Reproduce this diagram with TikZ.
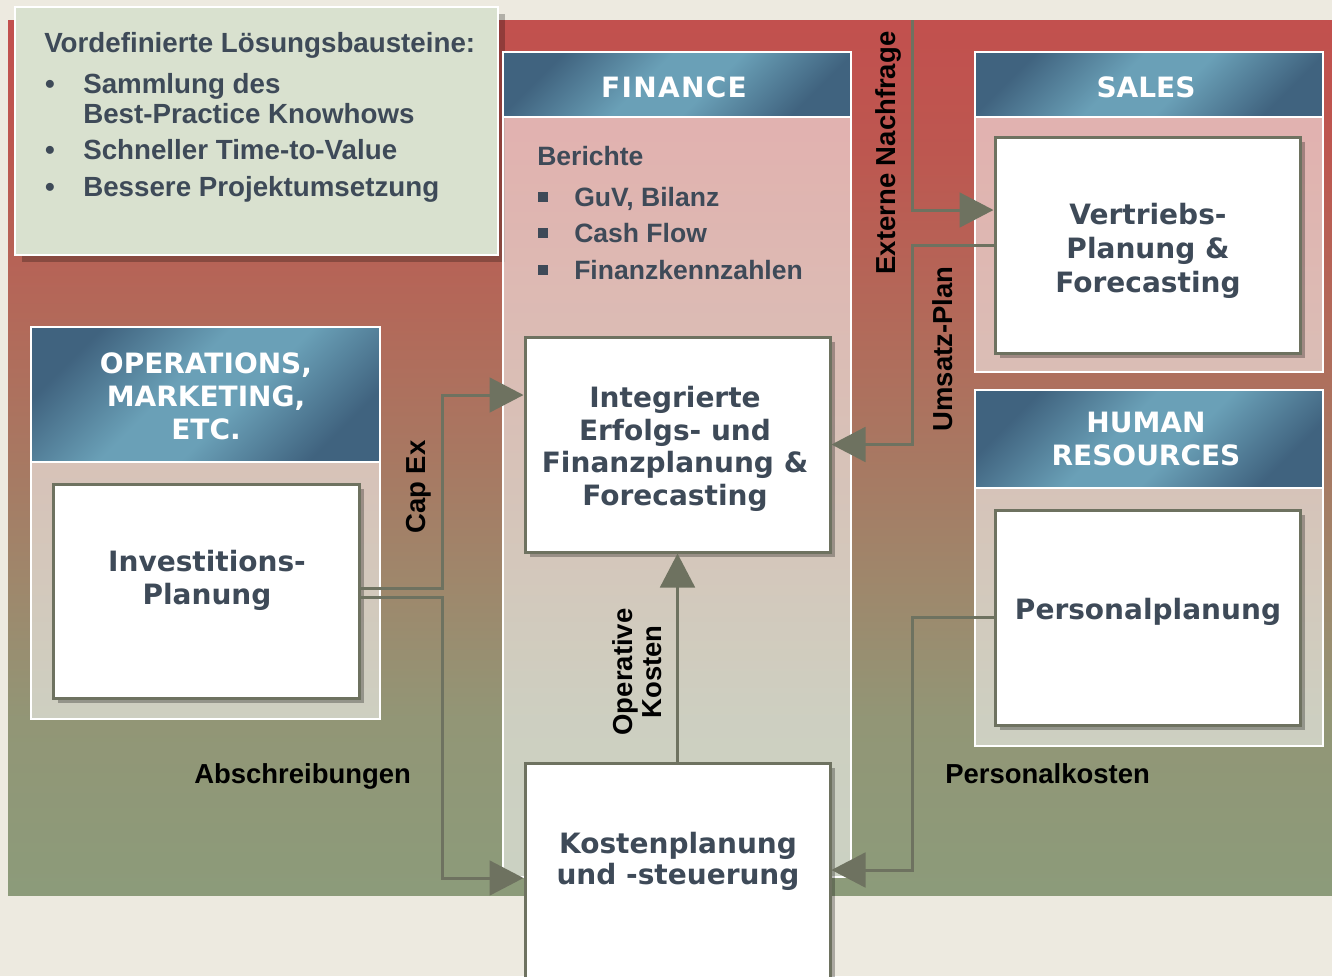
\documentclass[tikz,border=0pt]{standalone}
\usepackage{fontspec}
\setmainfont{DejaVu Sans}
\newfontfamily\lib{Liberation Sans}
\usetikzlibrary{arrows.meta,fit,shadows}
\definecolor{bgc}{RGB}{237,234,224}
\definecolor{calloutc}{RGB}{217,225,207}
\definecolor{txtc}{RGB}{62,74,88}
\definecolor{linec}{RGB}{110,114,96}
\definecolor{hdark}{RGB}{64,99,127}
\definecolor{hlight}{RGB}{106,160,183}
\definecolor{gA}{RGB}{140,155,122}
\definecolor{gB}{RGB}{146,150,118}
\definecolor{gC}{RGB}{158,136,108}
\definecolor{gD}{RGB}{168,120,98}
\definecolor{gE}{RGB}{178,106,90}
\definecolor{gF}{RGB}{189,87,80}
\definecolor{gG}{RGB}{194,80,78}
\pgfdeclareverticalshading{bgshade}{100bp}{color(0bp)=(gA); color(25bp)=(gA); color(35bp)=(gB); color(42.5bp)=(gC); color(50bp)=(gD); color(57.5bp)=(gE); color(67.5bp)=(gF); color(75bp)=(gG); color(100bp)=(gG)}
\pgfdeclareverticalshading{hdrshade}{100bp}{color(0bp)=(hdark); color(25bp)=(hdark); color(44bp)=(hlight); color(56bp)=(hlight); color(75bp)=(hdark); color(100bp)=(hdark)}
\begin{document}
\begin{tikzpicture}[x=0.75pt,y=-0.75pt,
  ibox/.style={draw=linec, line width=2.25pt, fill=white, inner sep=0pt,
    drop shadow={shadow xshift=3.75pt, shadow yshift=-3.75pt, fill=black, opacity=0.28}},
  boxtxt/.style={text=txtc, align=center, inner sep=0pt},
  hdr/.style={shading=hdrshade, shading angle=45, draw=white, line width=1.5pt, inner sep=0pt},
  hdrtxt/.style={text=white, align=center, inner sep=0pt, font=\bfseries\fontsize{21}{24.75}\selectfont},
  pbody/.style={fill=white, fill opacity=0.55, draw=white, draw opacity=1, line width=1.5pt, inner sep=0pt},
  conn/.style={draw=linec, line width=2.25pt},
  arr/.style={conn, -{Triangle[length=25.5pt,width=26pt]}},
  lbl/.style={text=black, inner sep=0pt, font=\lib\bfseries\fontsize{20.6}{22.2}\selectfont},
  ctext/.style={text=txtc, inner sep=0pt, anchor=base west, font=\lib\bfseries\fontsize{20.8}{25}\selectfont},
  cbul/.style={text=txtc, inner sep=0pt, anchor=base, font=\lib\bfseries\fontsize{20.8}{25}\selectfont},
  ftext/.style={text=txtc, inner sep=0pt, anchor=base west, font=\lib\bfseries\fontsize{19.9}{24}\selectfont},
  sq/.style={fill=txtc, minimum size=8pt, inner sep=0pt}
]
\useasboundingbox (0,0) rectangle (1332,976);
\clip (0,0) rectangle (1332,976);
\fill[bgc] (0,0) rectangle (1332,976);
\shade[shading=bgshade] (8,20) rectangle (1332,895);

% callout
\node[fill=calloutc, draw=white, line width=1.5pt, inner sep=0pt, fit={(15,7) (498,255)},
  drop shadow={shadow xshift=5pt, shadow yshift=-5pt, fill=black, opacity=0.25}] (call) {};
\node[ctext] (c0) at (44,52) {Vordefinierte Lösungsbausteine:};
\node[cbul] (cb1) at (50,93) {•};
\node[ctext] (c1) at (83,93) {Sammlung des};
\node[ctext] (c2) at (83,123) {Best-Practice Knowhows};
\node[cbul] (cb2) at (50,159) {•};
\node[ctext] (c3) at (83,159) {Schneller Time-to-Value};
\node[cbul] (cb3) at (50,196) {•};
\node[ctext] (c4) at (83,196) {Bessere Projektumsetzung};

% panels
\node[pbody, fit={(503,117) (851,877)}] (finB) {};
\node[hdr, fit={(503,52) (851,117)}] (finH) {};
\node[hdrtxt, anchor=base] (finT) at (674,97) {F\kern1pt I\kern1pt N\kern1pt A\kern1pt N\kern1pt C\kern1pt E};

\node[pbody, fit={(31,462) (380,719)}] (opsB) {};
\node[hdr, fit={(31,327) (380,462)}] (opsH) {};
\node[hdrtxt] (opsT) at (206,396) {OPERATIONS,\\MARKETING,\\ETC.};

\node[pbody, fit={(975,117) (1323,372)}] (salB) {};
\node[hdr, fit={(975,52) (1323,117)}] (salH) {};
\node[hdrtxt, anchor=base] (salHT) at (1146,97) {SALES};

\node[pbody, fit={(975,488) (1323,746)}] (hrB) {};
\node[hdr, fit={(975,390) (1323,488)}] (hrH) {};
\node[hdrtxt] (hrT) at (1146,438.5) {HUMAN\\RESOURCES};

% finance list
\node[ftext] (f0) at (537,165) {Berichte};
\node[sq] (s1) at (543,197) {};
\node[ftext] (f1) at (574,206) {GuV, Bilanz};
\node[sq] (s2) at (543,233) {};
\node[ftext] (f2) at (574,242) {Cash Flow};
\node[sq] (s3) at (543,270) {};
\node[ftext] (f3) at (574,279) {Finanzkennzahlen};

% inner boxes
\node[ibox, fit={(525,337) (830,552)}] (int) {};
\node[boxtxt, font=\bfseries\fontsize{21}{24.4}\selectfont] (intT) at (675,449) {Integrierte\\Erfolgs- und\\Finanzplanung \&\\Forecasting};
\node[ibox, fit={(525,763) (830,995)}] (kos) {};
\node[boxtxt, font=\bfseries\fontsize{21}{23.25}\selectfont] (kosT) at (678,861) {Kostenplanung\\und -steuerung};
\node[ibox, fit={(53,484) (359,698)}] (inv) {};
\node[boxtxt, font=\bfseries\fontsize{21}{24.75}\selectfont] (invT) at (207,580) {Investitions-\\Planung};
\node[ibox, fit={(995,137) (1300,353)}] (sal) {};
\node[boxtxt, font=\bfseries\fontsize{21}{25.5}\selectfont] (salT) at (1148,251) {Vertriebs-\\Planung \&\\Forecasting};
\node[ibox, fit={(995,510) (1300,725)}] (per) {};
\node[boxtxt, font=\bfseries\fontsize{21}{24}\selectfont, anchor=base] (perT) at (1148,619) {Personalplanung};

% routing coordinates
\coordinate (extTop) at (912,20);
\coordinate (yExt) at (0,210);
\coordinate (cx) at (442,588);
\coordinate (ax) at (442,597);
\coordinate (yCap) at (0,395);
\coordinate (yAb) at (0,878);
\coordinate (yPer) at (0,870);

% connectors
\draw[arr] (extTop) |- (sal.west |- yExt);
\draw[arr] (sal.west) -- (sal.west -| extTop) |- (int.east);
\draw[arr] (inv.east |- cx) -- (cx) |- (int.west |- yCap);
\draw[arr] (inv.east |- ax) -- (ax) |- (kos.west |- yAb);
\draw[arr] (kos.north) -- (int.south);
\draw[arr] (per.west) -- (per.west -| extTop) |- (kos.east |- yPer);

% labels
\node[lbl, rotate=90, anchor=base] (lExt) at (895,153) {Externe Nachfrage};
\node[lbl, rotate=90, anchor=base] (lUms) at (952,349) {Umsatz-Plan};
\node[lbl, rotate=90, anchor=base] (lCap) at (425,487) {Cap Ex};
\node[lbl, rotate=90, align=center] (lOp) at (637,672) {Operative\\Kosten};
\node[lbl, anchor=base west] (lAb) at (194,783) {Abschreibungen};
\node[lbl, anchor=base west] (lPer) at (945,783) {Personalkosten};
\end{tikzpicture}
\end{document}
